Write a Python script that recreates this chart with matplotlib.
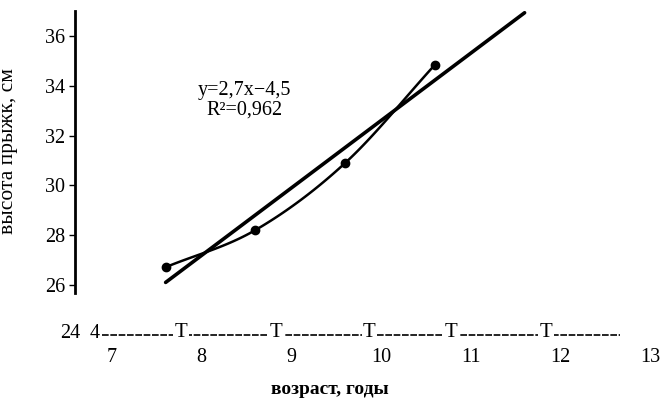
import numpy as np
import matplotlib
matplotlib.use("Agg")
import matplotlib.pyplot as plt

plt.rcParams['font.family'] = ['Liberation Serif', 'DejaVu Serif']

# jump height by age
ages = [7.6, 8.6, 9.6, 10.6]
height_cm = [26.72, 28.21, 30.9, 34.84]

x_ticks = [7, 8, 9, 10, 11, 12, 13]
y_ticks = [26, 28, 30, 32, 34, 36]
t_marks = [7.77, 8.83, 9.87, 10.78, 11.84]
eq_text = "y=2,7x\u22124,5\nR\u00b2=0,962"


def catmull_rom(xs, ys, n=30):
    # smooth curve through the points, similar to the spreadsheet "smoothed line"
    p = np.column_stack([xs, ys]).astype(float)
    p = np.vstack([2 * p[0] - p[1], p, 2 * p[-1] - p[-2]])
    out = []
    t = np.linspace(0, 1, n)[:, None]
    for i in range(1, len(p) - 2):
        p0, p1, p2, p3 = p[i - 1], p[i], p[i + 1], p[i + 2]
        seg = 0.5 * ((2 * p1) + (-p0 + p2) * t + (2 * p0 - 5 * p1 + 4 * p2 - p3) * t ** 2
                     + (-p0 + 3 * p1 - 3 * p2 + p3) * t ** 3)
        out.append(seg)
    out = np.vstack(out)
    return out[:, 0], out[:, 1]


fig = plt.figure(figsize=(6.61, 4.0), dpi=100)
ax = fig.add_axes([75 / 661, 1 - 335 / 400, 586 / 661, 324 / 400])

# linear trend, extended one period forward
k, b = np.polyfit(ages, height_cm, 1)
tx = np.array([ages[0], ages[-1] + 1.0])
ax.plot(tx, k * tx + b, color='black', lw=2.6, solid_capstyle='round')

sx, sy = catmull_rom(ages, height_cm)
ax.plot(sx, sy, color='black', lw=1.8)
ax.plot(ages, height_cm, 'o', color='black', ms=6)

ax.text(8.48, 33.42, eq_text, ha='center', va='center', fontsize=14.5, linespacing=1.05)

ax.set_xlim(6.59, 13.12)
ax.set_ylim(24, 37.0)

for s in ['top', 'right', 'bottom']:
    ax.spines[s].set_visible(False)
ax.spines['left'].set_bounds(25.7, 37.0)
ax.spines['left'].set_linewidth(2.0)

ax.set_yticks(y_ticks)
ax.set_yticklabels([str(v) for v in y_ticks], fontsize=14.5)
ax.tick_params(axis='y', length=4, width=1, pad=3, direction='out')

ax.set_xticks(x_ticks)
ax.set_xticklabels([str(v) for v in x_ticks], fontsize=14.5)
ax.tick_params(axis='x', length=0, pad=9)

# broken x axis row at 24
ax.plot([6.89, 12.66], [24, 24], color='black', lw=1.2, dashes=(4, 1.0), clip_on=False)
for tm in t_marks:
    ax.text(tm, 24.1, 'T', ha='center', va='center', fontsize=15,
            bbox=dict(facecolor='white', edgecolor='none', pad=1.0), clip_on=False)
ax.text(6.645, 24.05, '24', ha='right', va='center', fontsize=14.5)
ax.text(6.75, 24.05, '4', ha='left', va='center', fontsize=14.5)

ax.set_xlabel('возраст, годы', fontsize=14, fontweight='bold')
ax.xaxis.set_label_coords(0.435, -0.143)
ax.set_ylabel('высота прыжк, см', fontsize=15.5)
ax.yaxis.set_label_coords(-0.098, 0.568)

fig.savefig('out.png', dpi=100)
